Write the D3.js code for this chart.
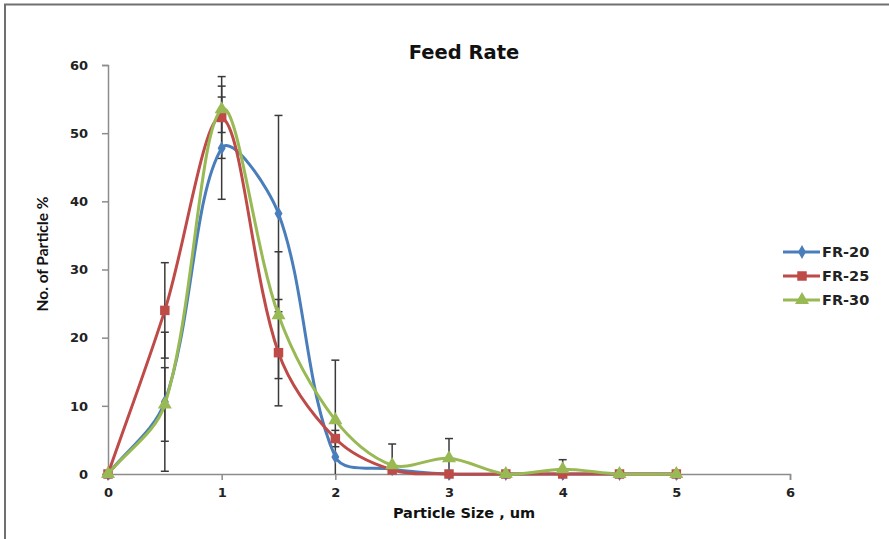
<!DOCTYPE html>
<html><head><meta charset="utf-8">
<script src="https://cdn.jsdelivr.net/npm/d3@7"></script>
<style>body{margin:0;background:#fff}svg{display:block}</style>
</head><body>
<script>
const sizes = [0, 0.5, 1, 1.5, 2, 2.5, 3, 3.5, 4, 4.5, 5];
const fr20 = [0, 10.6, 47.8, 38.2, 2.5, 0.7, 0, 0, 0, 0, 0];
const fr20Err = [0, 10.2, 7.5, 14.4, 0, 0, 0, 0, 0, 0, 0];
const fr25 = [0, 24, 52.3, 17.8, 5.2, 0.6, 0, 0, 0, 0, 0];
const fr25Err = [0, 7, 6, 7.8, 1.2, 0, 0, 0, 0, 0, 0];
const fr30 = [0, 10.2, 53.5, 23.3, 7.9, 1.3, 2.3, 0, 0.7, 0, 0];
const fr30Err = [0, 5.4, 3.4, 9.3, 8.8, 3.1, 2.9, 0, 1.4, 0, 0];
const seriesNames = ["FR-20", "FR-25", "FR-30"];
const colors = ["#4A7EBB", "#BE4B48", "#98B954"];
const xTicks = [0, 1, 2, 3, 4, 5, 6];
const yTicks = [0, 10, 20, 30, 40, 50, 60];

const W = 889, H = 539;
const svg = d3.select("body").append("svg").attr("width", W).attr("height", H);

// frame
svg.append("path").attr("d", "M5,540 L5,4.5 L890,4.5").attr("fill", "none")
  .attr("stroke", "#707070").attr("stroke-width", 2);

const x = d3.scaleLinear().domain([0, 6]).range([108, 790]);
const y = d3.scaleLinear().domain([0, 60]).range([474, 65]);

const series = [
  { name: seriesNames[0], vals: fr20, err: fr20Err, color: colors[0], marker: "diamond" },
  { name: seriesNames[1], vals: fr25, err: fr25Err, color: colors[1], marker: "square" },
  { name: seriesNames[2], vals: fr30, err: fr30Err, color: colors[2], marker: "triangle" }
];

// axes
const axisFont = "'DejaVu Sans', sans-serif";
const gx = svg.append("g").attr("transform", `translate(0,${y(0)})`)
  .call(d3.axisBottom(x).tickValues(xTicks).tickSize(6).tickPadding(8).tickFormat(d3.format("d")));
const gy = svg.append("g").attr("transform", `translate(${x(0)},0)`)
  .call(d3.axisLeft(y).tickValues(yTicks).tickSize(6).tickPadding(14).tickFormat(d3.format("d")));
[gx, gy].forEach(g => {
  g.select(".domain").attr("stroke", "#8c8c8c").attr("stroke-width", 1.5);
  g.selectAll(".tick line").attr("stroke", "#8c8c8c").attr("stroke-width", 1.5);
  g.selectAll(".tick text").attr("font-family", axisFont).attr("font-weight", "bold")
    .attr("font-size", 13).attr("fill", "#222");
});

// error bars
const clipY = v => Math.max(0, v);
const eb = svg.append("g").attr("stroke", "#3a3a3a").attr("stroke-width", 1.5);
series.forEach(s => {
  sizes.forEach((sx, i) => {
    const e = s.err[i];
    if (!e) return;
    const lo = clipY(s.vals[i] - e), hi = s.vals[i] + e;
    eb.append("line").attr("x1", x(sx)).attr("x2", x(sx)).attr("y1", y(lo)).attr("y2", y(hi));
    eb.append("line").attr("x1", x(sx) - 4).attr("x2", x(sx) + 4).attr("y1", y(hi)).attr("y2", y(hi));
    if (s.vals[i] - e > 0)
      eb.append("line").attr("x1", x(sx) - 4).attr("x2", x(sx) + 4).attr("y1", y(lo)).attr("y2", y(lo));
  });
});

const symbols = {
  diamond: d3.symbol().type(d3.symbolDiamond).size(55),
  square: d3.symbol().type(d3.symbolSquare).size(90),
  triangle: d3.symbol().type(d3.symbolTriangle).size(85)
};

// Excel-like smoothed line: Bezier, control arms scaled by neighbouring segment lengths
function smoothPath(pts) {
  const p = pts.map(d => [x(d[0]), y(d[1])]);
  const n = p.length;
  const path = d3.path();
  path.moveTo(p[0][0], p[0][1]);
  const ctrl = (i) => {
    const p0 = p[Math.max(0, i - 1)], p1 = p[i], p2 = p[Math.min(n - 1, i + 1)];
    const d01 = Math.hypot(p1[0] - p0[0], p1[1] - p0[1]);
    const d12 = Math.hypot(p2[0] - p1[0], p2[1] - p1[1]);
    const tx = p2[0] - p0[0], ty = p2[1] - p0[1];
    const sum = d01 + d12 || 1;
    const fb = d01 / sum / 3, fa = d12 / sum / 3;
    return { before: [p1[0] - tx * fb, p1[1] - ty * fb], after: [p1[0] + tx * fa, p1[1] + ty * fa] };
  };
  const cs = p.map((_, i) => ctrl(i));
  for (let i = 0; i < n - 1; i++) {
    const a = cs[i].after, b = cs[i + 1].before;
    path.bezierCurveTo(a[0], a[1], b[0], b[1], p[i + 1][0], p[i + 1][1]);
  }
  return path.toString();
}

series.forEach(s => {
  const pts = sizes.map((sx, i) => [sx, s.vals[i]]);
  svg.append("path").attr("d", smoothPath(pts)).attr("fill", "none")
    .attr("stroke", s.color).attr("stroke-width", 3).attr("stroke-linejoin", "round");
  svg.append("g").selectAll("path").data(pts).join("path")
    .attr("transform", d => `translate(${x(d[0])},${y(d[1])})`)
    .attr("d", symbols[s.marker]).attr("fill", s.color);
});

// title
svg.append("text").attr("x", 464).attr("y", 59).attr("text-anchor", "middle")
  .attr("font-family", axisFont).attr("font-weight", "bold")
  .attr("font-size", 19.5).attr("fill", "#111").text("Feed Rate");

svg.append("text").attr("x", 464).attr("y", 518).attr("text-anchor", "middle")
  .attr("font-family", axisFont).attr("font-weight", "bold")
  .attr("font-size", 14.5).attr("fill", "#111").text("Particle Size , um");

svg.append("text").attr("transform", "translate(48,254) rotate(-90)").attr("text-anchor", "middle")
  .attr("font-family", "Lato, 'Open Sans', sans-serif").attr("font-weight", "bold")
  .attr("font-size", 15.5).attr("fill", "#111").text("No. of Particle %");

// legend
const legY = [252, 276, 300];
series.forEach((s, i) => {
  const g = svg.append("g").attr("transform", `translate(0,${legY[i]})`);
  g.append("line").attr("x1", 783).attr("x2", 820).attr("y1", 0).attr("y2", 0)
    .attr("stroke", s.color).attr("stroke-width", 3);
  g.append("path").attr("transform", "translate(802,0)").attr("d", symbols[s.marker]).attr("fill", s.color);
  g.append("text").attr("x", 822).attr("y", 5).attr("font-family", axisFont)
    .attr("font-weight", "bold").attr("font-size", 14.5).attr("fill", "#222").text(s.name);
});
</script>
</body></html>
